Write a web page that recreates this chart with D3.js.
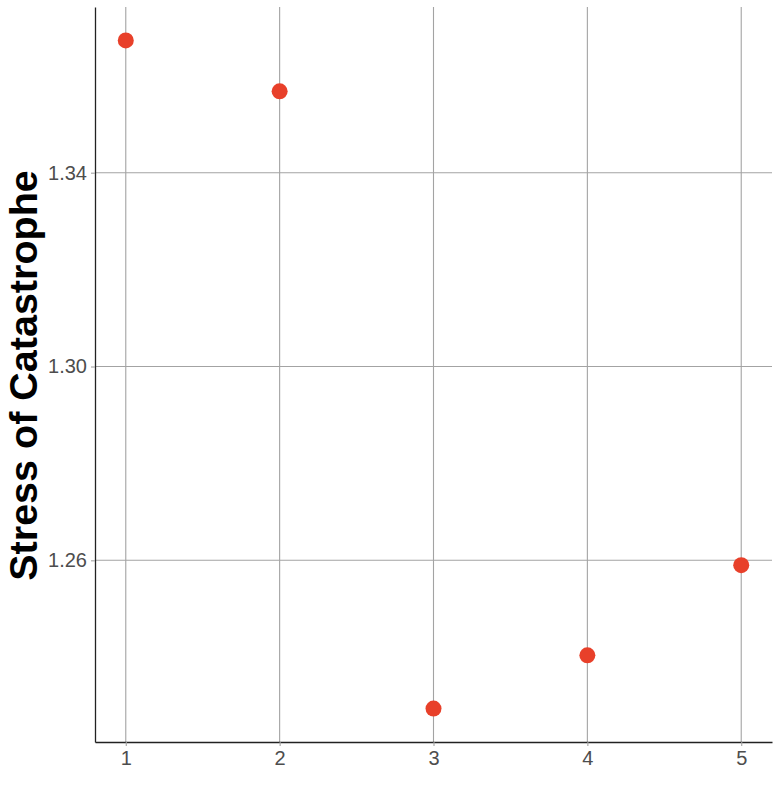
<!DOCTYPE html>
<html>
<head>
<meta charset="utf-8">
<script src="https://cdn.jsdelivr.net/npm/d3@7/dist/d3.min.js"></script>
<style>
  html, body { margin: 0; padding: 0; background: #fff; }
  svg { display: block; }
</style>
</head>
<body>
<svg id="chart" width="780" height="808"></svg>
<script>
const xValues = [1, 2, 3, 4, 5];
const yValues = [1.3673, 1.3568, 1.2294, 1.2404, 1.2590];
const xTicks = [1, 2, 3, 4, 5];
const yTicks = [1.26, 1.30, 1.34];
const yTitle = "Stress of Catastrophe";

const W = 780, H = 808;
const margin = { top: 7, right: 8, bottom: 66, left: 95 };
const iw = W - margin.left - margin.right;
const ih = H - margin.top - margin.bottom;

const svg = d3.select("#chart");
const g = svg.append("g").attr("transform", `translate(${margin.left},${margin.top})`);

const xMin = d3.min(xValues), xMax = d3.max(xValues);
const xPad = (xMax - xMin) * 0.05;
const yMin = d3.min(yValues), yMax = d3.max(yValues);
const yPad = (yMax - yMin) * 0.05;

const x = d3.scaleLinear().domain([xMin - xPad, xMax + xPad]).range([0, iw]);
const y = d3.scaleLinear().domain([yMin - yPad, yMax + yPad]).range([ih, 0]);

// grid
g.append("g").selectAll("line.gx").data(xTicks).join("line")
  .attr("x1", d => x(d)).attr("x2", d => x(d))
  .attr("y1", 0).attr("y2", ih)
  .attr("stroke", "#a3a3a3").attr("stroke-width", 1.1);
g.append("g").selectAll("line.gy").data(yTicks).join("line")
  .attr("x1", 0).attr("x2", iw)
  .attr("y1", d => y(d)).attr("y2", d => y(d))
  .attr("stroke", "#a3a3a3").attr("stroke-width", 1.1);

// axes
const xAxis = g.append("g").attr("transform", `translate(0,${ih})`)
  .call(d3.axisBottom(x).tickValues(xTicks).tickSizeInner(4).tickSizeOuter(0).tickPadding(5).tickFormat(d3.format("d")));
const yAxis = g.append("g")
  .call(d3.axisLeft(y).tickValues(yTicks).tickSizeInner(4).tickSizeOuter(0).tickPadding(4).tickFormat(d3.format(".2f")));

[xAxis, yAxis].forEach(a => {
  a.attr("font-size", null).attr("font-family", null);
  a.select(".domain").attr("stroke", "#222").attr("stroke-width", 1.3);
  a.selectAll(".tick line").attr("stroke", "#a3a3a3").attr("stroke-width", 1.1);
  a.selectAll(".tick text")
    .attr("fill", "#4d4d4d")
    .style("font-family", "'Liberation Sans', Arial, sans-serif")
    .style("font-size", "20px");
});

// points
g.append("g").selectAll("circle").data(xValues.map((v, i) => [v, yValues[i]])).join("circle")
  .attr("cx", d => x(d[0])).attr("cy", d => y(d[1]))
  .attr("r", 8).attr("fill", "#e8402a");

// y title
svg.append("text")
  .attr("transform", `translate(37,${margin.top + ih / 2 + 1}) rotate(-90)`)
  .attr("text-anchor", "middle")
  .style("font-family", "'Liberation Sans', Arial, sans-serif")
  .style("font-weight", "bold")
  .style("font-size", "39.5px")
  .attr("fill", "#000")
  .text(yTitle);
</script>
</body>
</html>
